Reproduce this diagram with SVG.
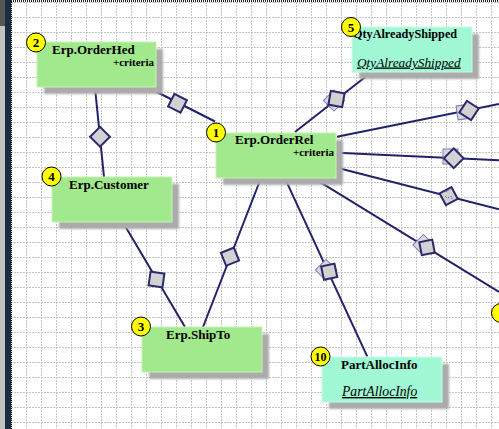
<svg xmlns="http://www.w3.org/2000/svg" width="499" height="429" viewBox="0 0 499 429">
<defs>
<pattern id="grid" patternUnits="userSpaceOnUse" x="11" y="2" width="15" height="15">
<path d="M0.5 0V15" stroke="#c4c4c4" stroke-width="1" stroke-dasharray="2 1"/>
<path d="M0 0.5H15" stroke="#c4c4c4" stroke-width="1" stroke-dasharray="2 1"/>
</pattern>
<filter id="blur" x="-10%" y="-10%" width="120%" height="120%"><feGaussianBlur stdDeviation="0.9"/></filter>
</defs>
<style>
.conn line{stroke:#22226a;stroke-width:2;fill:none}
.shadow{fill:#ababab;filter:url(#blur)}
.green{fill:#a2e88c;stroke:#c6f4b6;stroke-width:1}
.cyan{fill:#a0f8d4;stroke:#cafce6;stroke-width:1}
.badge circle{fill:#ffff00;stroke:#000;stroke-width:1}
.badge text{font-family:"Liberation Serif","Times New Roman",serif;font-weight:bold;font-size:13px;text-anchor:middle;fill:#000}
.title{font-family:"Liberation Serif","Times New Roman",serif;font-weight:bold;font-size:13px;fill:#000}
.crit{font-family:"Liberation Serif","Times New Roman",serif;font-weight:bold;font-size:11px;fill:#000;text-anchor:end}
.ital{font-family:"Liberation Serif","Times New Roman",serif;font-style:italic;font-size:13.7px;fill:#000;text-decoration:underline}
.front{fill:#d2d2d2;stroke:#2a2a6c;stroke-width:2}
.back{fill:#d8d8e0;stroke:#7a7ab0;stroke-width:1}
</style>
<rect x="0" y="0" width="499" height="429" fill="#ffffff"/>
<rect x="11" y="2" width="488" height="427" fill="url(#grid)"/>
<!-- frame -->
<rect x="0" y="0" width="5" height="429" fill="#c2c2c2"/>
<rect x="0" y="0" width="5" height="26" fill="#565656"/>
<rect x="5" y="0" width="6" height="429" fill="#1b2d42"/>
<line x1="11.5" y1="0" x2="11.5" y2="429" stroke="#000" stroke-width="1" stroke-dasharray="1 1"/>
<line x1="11" y1="1" x2="499" y2="1" stroke="#222" stroke-width="2" stroke-dasharray="1 1"/>

<g id="connectors" class="conn">
<line x1="149" y1="88" x2="215" y2="121.5"/>
<line x1="95" y1="88" x2="104" y2="177"/>
<line x1="123.3" y1="223" x2="185" y2="327"/>
<line x1="261" y1="178" x2="203" y2="327"/>
<line x1="295" y1="132" x2="370.7" y2="72.7"/>
<line x1="337" y1="136.7" x2="499" y2="104"/>
<line x1="337" y1="152.7" x2="499" y2="160.3"/>
<line x1="337" y1="167.7" x2="499" y2="209.3"/>
<line x1="314" y1="178.3" x2="499" y2="292"/>
<line x1="285" y1="178.3" x2="367.3" y2="356.7"/>
<g id="markers">
<rect class="front" x="-7" y="-7" width="14" height="14" transform="translate(177.5,103.3) rotate(27)"/>
<rect class="front" x="-7" y="-7" width="14" height="14" transform="translate(100,136.7) rotate(45)"/>
<rect class="front" x="-7" y="-7" width="14" height="14" transform="translate(156.5,279.5) rotate(8)"/>
<rect class="front" x="-7" y="-7" width="14" height="14" transform="translate(230,256.7) rotate(-22)"/>
<rect class="back" x="-7.5" y="-7.5" width="15" height="15" transform="translate(334,100.5) rotate(45)"/>
<rect class="front" x="-7" y="-7" width="14" height="14" transform="translate(336.5,99) rotate(10)"/>
<rect class="back" x="-7" y="-7" width="14" height="14" transform="translate(464,112) rotate(-8)"/>
<rect class="front" x="-7" y="-7" width="14" height="14" transform="translate(469,110.5) rotate(33)"/>
<rect class="back" x="-7.5" y="-7.5" width="15" height="15" transform="translate(450.5,156.5)"/>
<rect class="front" x="-7" y="-7" width="14" height="14" transform="translate(453.7,158.3) rotate(45)"/>
<rect class="front" x="-6.7" y="-6.7" width="13.4" height="13.4" transform="translate(448.7,196.1) rotate(-28)"/>
<path d="M446 192 l3 -2 M445 196 l2 2 l3 -1 M451 196 l1 3" stroke="#3a50c8" stroke-width="1" stroke-dasharray="1 1" fill="none"/>
<rect class="back" x="-7.5" y="-7.5" width="15" height="15" transform="translate(423.5,245) rotate(45)"/>
<rect class="front" x="-6.6" y="-6.6" width="13.2" height="13.2" transform="translate(427,247.4) rotate(-11)"/>
<rect class="back" x="-7.5" y="-7.5" width="15" height="15" transform="translate(326,270) rotate(45)"/>
<rect class="front" x="-6.8" y="-6.8" width="13.6" height="13.6" transform="translate(329.2,271.7) rotate(-12)"/>
</g>
</g>

<g id="node-orderhed">
<rect class="shadow" x="44" y="49" width="119" height="45"/>
<rect class="green" x="37" y="42" width="119" height="45"/>
<text class="title" x="52" y="54">Erp.OrderHed</text>
<text class="crit" x="154" y="66">+criteria</text>
<g class="badge"><circle cx="36" cy="42.5" r="9.5"/><text x="36" y="47">2</text></g>
</g>

<g id="node-customer">
<rect class="shadow" x="59" y="184" width="120" height="45"/>
<rect class="green" x="52" y="177" width="120" height="45"/>
<text class="title" x="69" y="189">Erp.Customer</text>
<g class="badge"><circle cx="51.5" cy="176.5" r="9.5"/><text x="51.5" y="181">4</text></g>
</g>

<g id="node-orderrel">
<rect class="shadow" x="223" y="140" width="120" height="45"/>
<rect class="green" x="216" y="133" width="120" height="45"/>
<text class="title" x="235" y="144">Erp.OrderRel</text>
<text class="crit" x="334" y="156">+criteria</text>
<g class="badge"><circle cx="216" cy="132.5" r="9.5"/><text x="216" y="137">1</text></g>
</g>

<g id="node-shipto">
<rect class="shadow" x="149" y="334" width="120" height="45"/>
<rect class="green" x="142" y="327" width="120" height="45"/>
<text class="title" x="166" y="339">Erp.ShipTo</text>
<g class="badge"><circle cx="141" cy="326.5" r="9.5"/><text x="141" y="331">3</text></g>
</g>

<g id="node-partallocinfo">
<rect class="shadow" x="329" y="364" width="120" height="45"/>
<rect class="cyan" x="322" y="357" width="120" height="45"/>
<text class="title" x="341" y="369">PartAllocInfo</text>
<text class="ital" x="342" y="396">PartAllocInfo</text>
<g class="badge"><circle cx="320.5" cy="356.5" r="9.5"/><text x="320.5" y="361" style="font-size:12px">10</text></g>
</g>

<g id="node-qtyalreadyshipped">
<rect class="shadow" x="359" y="34" width="120" height="45"/>
<rect class="cyan" x="352" y="27" width="120" height="45"/>
<text class="title" x="353" y="38" style="font-size:12.2px">QtyAlreadyShipped</text>
<text class="ital" x="357" y="66.5" style="font-size:13.3px">QtyAlreadyShipped</text>
<g class="badge"><circle cx="351" cy="27" r="9.5"/><text x="351" y="31.5">5</text></g>
</g>

<g id="node-offscreen">
<g class="badge"><circle cx="501" cy="313" r="9.5"/></g>
</g>
</svg>
